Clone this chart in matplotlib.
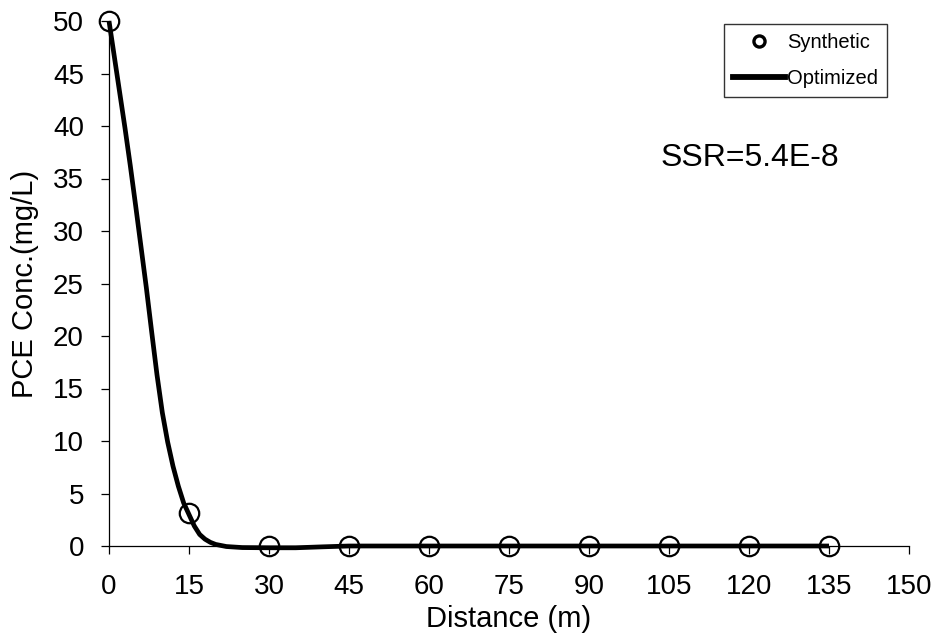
import matplotlib
matplotlib.use("Agg")
import matplotlib.pyplot as plt
from matplotlib.lines import Line2D

plt.rcParams['font.family'] = ['Liberation Sans', 'DejaVu Sans']

# Synthetic observations
obs_x = [0, 15, 30, 45, 60, 75, 90, 105, 120, 135]
obs_y = [50, 3.1, 0, 0, 0, 0, 0, 0, 0, 0]

# Optimized model profile
fit_x = [0, 1, 2, 3, 4, 5, 6, 7, 8, 9, 10, 11, 12, 13, 14, 15, 16, 17, 18, 19,
         20, 22, 25, 30, 35, 40, 45, 60, 75, 90, 105, 120, 135]
fit_y = [50, 46.6, 43.2, 39.8, 36.2, 32.4, 28.5, 24.6, 20.4, 16.3, 12.7, 9.9,
         7.6, 5.7, 4.1, 3.0, 1.9, 1.1, 0.65, 0.35, 0.15, -0.05, -0.15, -0.17,
         -0.17, -0.08, 0, 0, 0, 0, 0, 0, 0]

x_ticks = [0, 15, 30, 45, 60, 75, 90, 105, 120, 135, 150]
y_ticks = [0, 5, 10, 15, 20, 25, 30, 35, 40, 45, 50]

W, H = 941, 641
fig = plt.figure(figsize=(W / 100, H / 100), dpi=100)
ax = fig.add_axes([109 / W, 1 - 546 / H, 800 / W, 525 / H])

ax.plot(fit_x, fit_y, color='black', lw=3.4, solid_capstyle='butt', zorder=2,
        clip_on=False)
ax.plot(obs_x, obs_y, linestyle='none', marker='o', ms=14, mfc='none',
        mec='black', mew=1.6, zorder=3, clip_on=False)

ax.set_xlim(0, 150)
ax.set_ylim(0, 50)
ax.set_xticks(x_ticks)
ax.set_yticks(y_ticks)
for s in ('top', 'right'):
    ax.spines[s].set_visible(False)
for s in ('left', 'bottom'):
    ax.spines[s].set_linewidth(0.9)
ax.tick_params(direction='out', length=6, width=0.9, labelsize=20,
               colors='black')
ax.tick_params(axis='x', pad=14)
ax.tick_params(axis='y', pad=12)
ax.set_xlabel('Distance (m)', fontsize=21, labelpad=4)
ax.set_ylabel('PCE Conc.(mg/L)', fontsize=21, labelpad=10)

handles = [
    Line2D([], [], linestyle='none', marker='o', ms=8, mfc='none', mec='black',
           mew=2.4, label='Synthetic'),
    Line2D([], [], color='black', lw=4.2, label='Optimized'),
]
leg = fig.legend(handles=handles, loc='upper right',
                 bbox_to_anchor=(887 / W, 1 - 24 / H), fontsize=14.5,
                 frameon=True, fancybox=False, edgecolor='black',
                 handlelength=2.6, handletextpad=0.1, borderpad=0.45,
                 labelspacing=0.85, borderaxespad=0)
leg.get_frame().set_linewidth(1.0)

fig.text(661 / W, 1 - 158 / H, 'SSR=5.4E-8', fontsize=23, va='center',
         ha='left')

fig.savefig('out.png', dpi=100)
